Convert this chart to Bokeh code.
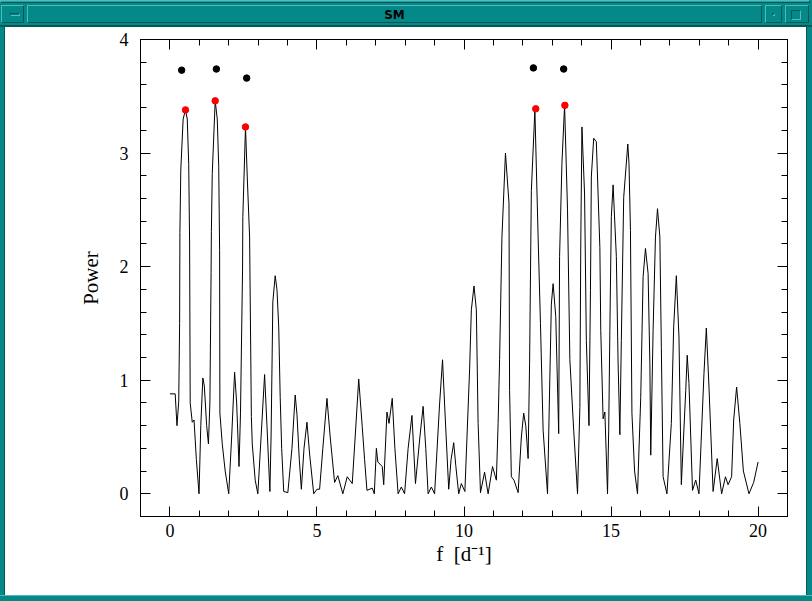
from bokeh.plotting import figure
from bokeh.models import Div, LinearAxis, Range1d, FixedTicker, CustomLabelingPolicy
from bokeh.layouts import column, row
from bokeh.embed import file_html
from bokeh.resources import INLINE

# ---- data ----
freq = [0.00, 0.18, 0.24, 0.30, 0.33, 0.34, 0.37, 0.45, 0.53, 0.59, 0.64, 0.67, 0.69, 0.76, 0.82, 0.90, 0.99,
        1.05, 1.12, 1.17, 1.25, 1.31, 1.36, 1.40, 1.41, 1.44, 1.54, 1.61, 1.66, 1.69, 1.70, 1.78, 1.88, 2.00,
        2.10, 2.20, 2.27, 2.35, 2.40, 2.47, 2.48, 2.57, 2.63, 2.71, 2.77, 2.80, 2.90, 2.99,
        3.10, 3.22, 3.30, 3.40, 3.44, 3.47, 3.50, 3.58, 3.64, 3.70, 3.75, 3.80, 3.87, 4.01,
        4.15, 4.26, 4.32, 4.40, 4.47, 4.56, 4.66, 4.75, 4.89, 5.00, 5.09, 5.20, 5.34, 5.45, 5.60, 5.71, 5.88,
        6.03, 6.20, 6.30, 6.42, 6.54, 6.62, 6.70, 6.88, 6.95, 7.02, 7.07, 7.22, 7.27, 7.38, 7.45, 7.56, 7.65,
        7.76, 7.87, 7.98, 8.10, 8.23, 8.35, 8.50, 8.61, 8.70, 8.78, 8.89, 9.00, 9.17, 9.27, 9.34, 9.48,
        9.56, 9.65, 9.72, 9.82, 9.91, 10.03, 10.19, 10.25, 10.34, 10.42, 10.48, 10.56, 10.70, 10.82, 10.97,
        11.10, 11.16, 11.21, 11.29, 11.41, 11.53, 11.55, 11.61, 11.70, 11.84, 11.95, 12.03, 12.10, 12.18,
        12.23, 12.29, 12.41, 12.52, 12.60, 12.69, 12.84, 12.92, 12.97, 13.03, 13.12, 13.16, 13.22, 13.25,
        13.33, 13.42, 13.52, 13.60, 13.73, 13.86, 13.94, 13.97, 14.01, 14.10, 14.16, 14.25, 14.30, 14.33,
        14.41, 14.50, 14.62, 14.65, 14.73, 14.79, 14.88, 14.92, 14.96, 15.01, 15.07, 15.18, 15.24, 15.30,
        15.35, 15.43, 15.57, 15.61, 15.66, 15.71, 15.80, 15.90, 16.01, 16.09, 16.17, 16.26, 16.32, 16.35,
        16.43, 16.51, 16.58, 16.66, 16.71, 16.77, 16.90, 17.05, 17.13, 17.22, 17.31, 17.36, 17.39, 17.54,
        17.59, 17.65, 17.77, 17.88, 17.99, 18.16, 18.24, 18.33, 18.47, 18.61, 18.76, 18.89, 18.98, 19.10,
        19.17, 19.27, 19.38, 19.50, 19.69, 19.85, 20.00]
power = [0.88, 0.88, 0.60, 0.81, 1.50, 2.30, 2.85, 3.30, 3.38, 3.30, 2.90, 2.20, 0.80, 0.63, 0.65, 0.30, 0.00,
         0.60, 1.02, 0.95, 0.60, 0.44, 0.80, 1.95, 2.31, 2.82, 3.46, 3.30, 2.88, 2.14, 0.71, 0.44, 0.20, 0.00,
         0.50, 1.07, 0.80, 0.24, 0.71, 1.98, 2.44, 3.23, 2.79, 2.26, 0.68, 0.44, 0.12, 0.00,
         0.50, 1.05, 0.60, 0.02, 0.50, 1.09, 1.69, 1.92, 1.80, 1.47, 0.85, 0.40, 0.02, 0.01,
         0.40, 0.87, 0.70, 0.30, 0.04, 0.40, 0.63, 0.35, 0.00, 0.04, 0.04, 0.40, 0.84, 0.50, 0.10, 0.16, 0.00,
         0.15, 0.09, 0.50, 1.01, 0.59, 0.30, 0.03, 0.05, 0.00, 0.40, 0.28, 0.24, 0.08, 0.72, 0.62, 0.84, 0.40,
         0.00, 0.06, 0.00, 0.40, 0.69, 0.09, 0.50, 0.77, 0.40, 0.00, 0.06, 0.00, 0.79, 1.18, 0.79, 0.04,
         0.30, 0.45, 0.25, 0.00, 0.09, 0.02, 1.09, 1.62, 1.83, 1.62, 0.62, 0.01, 0.19, 0.00, 0.24,
         0.12, 0.62, 1.18, 2.26, 3.00, 2.56, 0.91, 0.15, 0.12, 0.01, 0.50, 0.71, 0.60, 0.31,
         1.15, 2.67, 3.38, 2.26, 1.50, 0.56, 0.00, 1.03, 1.67, 1.85, 1.56, 1.15, 0.53, 2.09,
         2.91, 3.42, 2.50, 1.18, 0.56, 0.00, 0.76, 2.19, 3.23, 2.64, 1.35, 0.60, 1.79, 2.79,
         3.13, 3.10, 2.17, 1.44, 0.66, 0.72, 0.00, 0.56, 1.44, 2.44, 2.72, 2.09, 1.15, 0.52,
         1.35, 2.61, 3.08, 2.91, 2.32, 0.71, 0.20, 0.00, 0.85, 1.91, 2.16, 1.94, 1.15, 0.34,
         1.44, 2.26, 2.51, 2.26, 1.29, 0.15, 0.00, 0.62, 1.47, 1.92, 1.38, 0.56, 0.08, 0.91,
         1.22, 0.97, 0.03, 0.12, 0.00, 1.06, 1.46, 0.94, 0.02, 0.31, 0.00, 0.15, 0.08, 0.15,
         0.65, 0.94, 0.62, 0.20, 0.00, 0.10, 0.28]

# identified peaks (red) and their markers (black)
peak_f = [0.53, 1.54, 2.57, 12.44, 13.43]
peak_p = [3.38, 3.46, 3.23, 3.39, 3.42]
mark_f = [0.40, 1.58, 2.61, 12.36, 13.39]
mark_p = [3.73, 3.74, 3.66, 3.75, 3.74]

x_major = [0, 5, 10, 15, 20]
x_minor = [-1, 0, 1, 2, 3, 4, 5, 6, 7, 8, 9, 10, 11, 12, 13, 14, 15, 16, 17, 18, 19, 20, 21]
y_major = [0, 1, 2, 3, 4]
y_minor = [-0.2, 0.0, 0.2, 0.4, 0.6, 0.8, 1.0, 1.2, 1.4, 1.6, 1.8, 2.0, 2.2, 2.4, 2.6, 2.8,
           3.0, 3.2, 3.4, 3.6, 3.8, 4.0]

TEAL = "#058888"
LIGHT = "#4cbcbc"
DARK = "#035858"
SERIF = "Liberation Serif"

p = figure(width=801, height=568, x_range=Range1d(-1, 21), y_range=Range1d(-0.2, 4.0),
           output_backend="svg", toolbar_location=None,
           min_border_left=135, min_border_right=19, min_border_top=12, min_border_bottom=79,
           x_axis_label="f\u00a0\u00a0[d\u207b\u00b9]", y_axis_label="Power")
p.grid.visible = False
p.outline_line_color = "black"
p.outline_line_width = 1
p.background_fill_color = "white"
p.border_fill_color = "white"

p.line(freq, power, line_color="black", line_width=1)
p.scatter(mark_f, mark_p, size=6.5, color="black")
p.scatter(peak_f, peak_p, size=6.5, color="red")

xt = FixedTicker(ticks=x_major, minor_ticks=x_minor)
yt = FixedTicker(ticks=y_major, minor_ticks=y_minor)


def style(ax):
    ax.axis_line_color = "black"
    ax.axis_line_width = 1
    ax.major_tick_in = 10
    ax.major_tick_out = 0
    ax.minor_tick_in = 6
    ax.minor_tick_out = 0
    ax.major_tick_line_color = "black"
    ax.minor_tick_line_color = "black"
    ax.major_label_text_font = SERIF
    ax.major_label_text_font_size = "18px"
    ax.major_label_text_color = "black"
    ax.axis_label_text_font = SERIF
    ax.axis_label_text_font_size = "21px"
    ax.axis_label_text_font_style = "normal"
    ax.axis_label_text_color = "black"


p.xaxis.ticker = xt
p.yaxis.ticker = yt
style(p.xaxis[0])
style(p.yaxis[0])
p.xaxis.major_label_standoff = 7
p.xaxis.axis_label_standoff = 2
p.yaxis.major_label_standoff = 12
p.yaxis.axis_label_standoff = 14

# tick-only axes on the top and right (SM box style): no labels drawn at all
for loc, tick in (("above", xt), ("right", yt)):
    ax = LinearAxis(ticker=tick)
    style(ax)
    ax.major_label_policy = CustomLabelingPolicy(code="if (false) { yield 0 }")
    ax.major_label_text_font_size = "0px"
    ax.major_label_standoff = 0
    p.add_layout(ax, loc)

bev = "border:1px solid; border-color:%s %s %s %s;" % (LIGHT, DARK, DARK, LIGHT)
inset = "border:1px solid; border-color:%s %s %s %s;" % (DARK, LIGHT, LIGHT, DARK)
bar_html = (
    '<div style="position:relative;width:812px;height:27px;background:%s;overflow:hidden;">' % TEAL
    + '<div style="position:absolute;left:0;top:0;width:810px;height:3px;background:#2aa0a0;%s"></div>' % bev
    + '<div style="position:absolute;left:1px;top:5px;width:23px;height:18px;%s"></div>' % bev
    + '<div style="position:absolute;left:10px;top:13px;width:10px;height:3px;%s"></div>' % inset
    + '<div style="position:absolute;left:27px;top:5px;width:735px;height:18px;%s'
      'text-align:center;line-height:18px;font-family:\'DejaVu Sans\',sans-serif;'
      'font-size:12px;font-weight:bold;color:#000;">SM</div>' % bev
    + '<div style="position:absolute;left:765px;top:5px;width:17px;height:18px;%s"></div>' % bev
    + '<div style="position:absolute;left:772px;top:13px;width:3px;height:3px;%s"></div>' % inset
    + '<div style="position:absolute;left:785px;top:5px;width:24px;height:18px;%s"></div>' % bev
    + '<div style="position:absolute;left:791px;top:10px;width:10px;height:10px;%s"></div>' % inset
    + '<div style="position:absolute;left:0;top:25px;width:812px;height:2px;background:%s;"></div>' % DARK
    + '</div>'
)
title_bar = Div(text=bar_html, width=812, height=27, margin=0)
left_edge = Div(text="", width=5, height=568, margin=0,
                styles={"background-color": TEAL, "border-right": "1px solid " + DARK,
                        "box-sizing": "border-box"})
right_edge = Div(text="", width=6, height=568, margin=0,
                 styles={"background-color": TEAL, "border-left": "1px solid " + DARK,
                         "box-sizing": "border-box"})
bottom_edge = Div(text="", width=812, height=6, margin=0,
                  styles={"background-color": TEAL, "border-top": "1px solid " + LIGHT,
                          "box-sizing": "border-box"})

layout = column(title_bar, row(left_edge, p, right_edge, spacing=0), bottom_edge, spacing=0,
                styles={"position": "absolute", "left": "0px", "top": "0px"})

open("out.html", "w").write(file_html(layout, INLINE))
